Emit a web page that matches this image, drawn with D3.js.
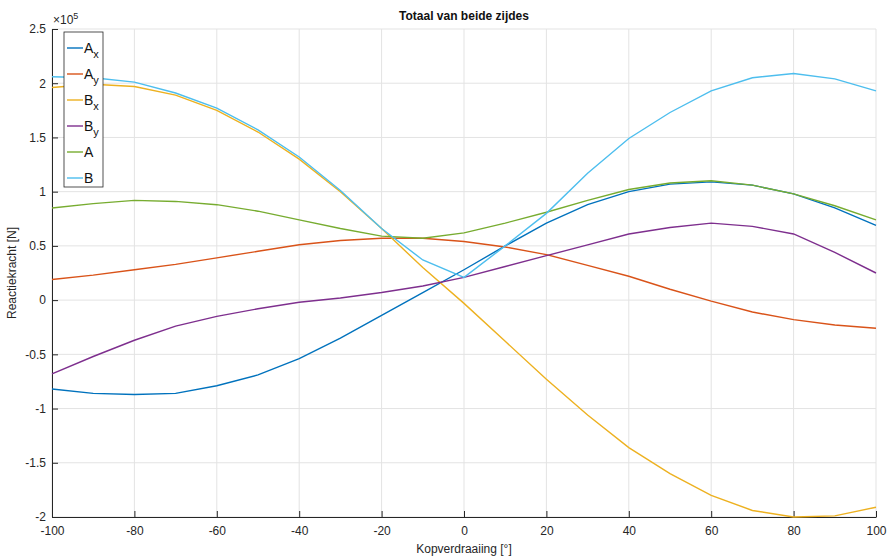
<!DOCTYPE html>
<html>
<head>
<meta charset="utf-8">
<script src="https://cdn.jsdelivr.net/npm/d3@7"></script>
<style>
  body { margin: 0; background: #fff; }
  text { font-family: "Liberation Sans", Arial, sans-serif; }
</style>
</head>
<body>
<div id="chart"></div>
<script>
// hoek (graden)
const hoeken = [-100, -90, -80, -70, -60, -50, -40, -30, -20, -10, 0, 10, 20, 30, 40, 50, 60, 70, 80, 90, 100];

// waarden in eenheden van 1e5 N
const Ax = [-0.82, -0.86, -0.87, -0.86, -0.79, -0.69, -0.54, -0.35, -0.14, 0.07, 0.28, 0.50, 0.71, 0.88, 1.00, 1.07, 1.09, 1.06, 0.98, 0.85, 0.69];
const Ay = [0.19, 0.23, 0.28, 0.33, 0.39, 0.45, 0.51, 0.55, 0.57, 0.57, 0.54, 0.49, 0.42, 0.32, 0.22, 0.10, -0.01, -0.11, -0.18, -0.23, -0.26];
const Bx = [1.96, 1.99, 1.97, 1.89, 1.75, 1.55, 1.30, 1.00, 0.66, 0.30, -0.03, -0.38, -0.73, -1.06, -1.36, -1.60, -1.80, -1.94, -2.00, -1.99, -1.91];
const By = [-0.68, -0.52, -0.37, -0.24, -0.15, -0.08, -0.02, 0.02, 0.07, 0.13, 0.21, 0.31, 0.41, 0.51, 0.61, 0.67, 0.71, 0.68, 0.61, 0.44, 0.25];
const A = [0.85, 0.89, 0.92, 0.91, 0.88, 0.82, 0.74, 0.66, 0.59, 0.57, 0.62, 0.71, 0.81, 0.92, 1.02, 1.08, 1.10, 1.06, 0.98, 0.87, 0.74];
const B = [2.06, 2.05, 2.01, 1.91, 1.77, 1.57, 1.32, 1.01, 0.66, 0.37, 0.21, 0.50, 0.80, 1.17, 1.49, 1.73, 1.93, 2.05, 2.09, 2.04, 1.93];

const reeksen = [
  { naam: "A", sub: "x", waarden: Ax, kleur: "#0072BD" },
  { naam: "A", sub: "y", waarden: Ay, kleur: "#D95319" },
  { naam: "B", sub: "x", waarden: Bx, kleur: "#EDB120" },
  { naam: "B", sub: "y", waarden: By, kleur: "#7E2F8E" },
  { naam: "A", sub: "", waarden: A, kleur: "#77AC30" },
  { naam: "B", sub: "", waarden: B, kleur: "#4DBEEE" }
];

const xTicks = [-100, -80, -60, -40, -20, 0, 20, 40, 60, 80, 100];
const yTicks = [-2, -1.5, -1, -0.5, 0, 0.5, 1, 1.5, 2, 2.5];

const width = 889, height = 560;
const margin = { top: 29, right: 13, bottom: 43, left: 52 };

const svg = d3.select("#chart").append("svg")
  .attr("width", width)
  .attr("height", height);

const x = d3.scaleLinear().domain([-100, 100]).range([margin.left, width - margin.right]);
const y = d3.scaleLinear().domain([-2, 2.5]).range([height - margin.bottom, margin.top]);

// gewone koppelteken i.p.v. unicode min
const fmt = d => String(d);

// rasterlijnen
svg.append("g").selectAll("line.vx")
  .data(xTicks).enter().append("line")
  .attr("x1", d => x(d)).attr("x2", d => x(d))
  .attr("y1", y(-2)).attr("y2", y(2.5))
  .attr("stroke", "#e3e3e3").attr("stroke-width", 1);
svg.append("g").selectAll("line.hy")
  .data(yTicks).enter().append("line")
  .attr("x1", x(-100)).attr("x2", x(100))
  .attr("y1", d => y(d)).attr("y2", d => y(d))
  .attr("stroke", "#e3e3e3").attr("stroke-width", 1);

// assen (ticks naar binnen)
const xAs = svg.append("g")
  .attr("transform", `translate(0,${y(-2)})`)
  .call(d3.axisBottom(x).tickValues(xTicks).tickSizeInner(-6).tickSizeOuter(0).tickPadding(9).tickFormat(fmt));
const yAs = svg.append("g")
  .attr("transform", `translate(${x(-100)},0)`)
  .call(d3.axisLeft(y).tickValues(yTicks).tickSizeInner(-6).tickSizeOuter(0).tickPadding(9).tickFormat(fmt));

[xAs, yAs].forEach(g => {
  g.select(".domain").attr("stroke", "#262626").attr("stroke-width", 1);
  g.selectAll(".tick line").attr("stroke", "#262626");
  g.selectAll(".tick text").attr("fill", "#262626").attr("font-size", 12)
    .attr("font-family", "'Liberation Sans', Arial, sans-serif");
});
yAs.selectAll(".tick text").attr("dx", 3);

// lijnen
const lijn = d3.line()
  .x((d, i) => x(hoeken[i]))
  .y(d => y(d));

svg.append("g").selectAll("path.reeks")
  .data(reeksen).enter().append("path")
  .attr("class", "reeks")
  .attr("d", d => lijn(d.waarden))
  .attr("fill", "none")
  .attr("stroke", d => d.kleur)
  .attr("stroke-width", 1.4);

// titel en labels
svg.append("text")
  .attr("x", x(0)).attr("y", 20)
  .attr("text-anchor", "middle")
  .attr("font-size", 12).attr("font-weight", "bold")
  .attr("fill", "#111")
  .text("Totaal van beide zijdes");

svg.append("text")
  .attr("x", x(0)).attr("y", 553)
  .attr("text-anchor", "middle")
  .attr("font-size", 12).attr("fill", "#262626")
  .text("Kopverdraaiing [°]");

svg.append("text")
  .attr("transform", `translate(16,${y(0.25)}) rotate(-90)`)
  .attr("text-anchor", "middle")
  .attr("font-size", 12).attr("fill", "#262626")
  .text("Reactiekracht [N]");

const expo = svg.append("text")
  .attr("x", 53).attr("y", 24)
  .attr("font-size", 12).attr("fill", "#262626");
expo.append("tspan").text("×10");
expo.append("tspan").attr("font-size", 9).attr("dy", -5).text("5");

// legenda
const leg = svg.append("g").attr("transform", "translate(64,32)");
leg.append("rect")
  .attr("width", 39).attr("height", 155)
  .attr("fill", "#fff").attr("stroke", "#262626").attr("stroke-width", 0.8);

const item = leg.selectAll("g.item")
  .data(reeksen).enter().append("g")
  .attr("class", "item")
  .attr("transform", (d, i) => `translate(0,${16 + i * 26})`);
item.append("line")
  .attr("x1", 3).attr("x2", 19)
  .attr("y1", 0).attr("y2", 0)
  .attr("stroke", d => d.kleur).attr("stroke-width", 1.4);
const lt = item.append("text")
  .attr("x", 20).attr("y", 5)
  .attr("font-size", 14).attr("fill", "#111");
lt.append("tspan").text(d => d.naam);
lt.append("tspan").attr("font-size", 11).attr("dy", 5).text(d => d.sub);
</script>
</body>
</html>
